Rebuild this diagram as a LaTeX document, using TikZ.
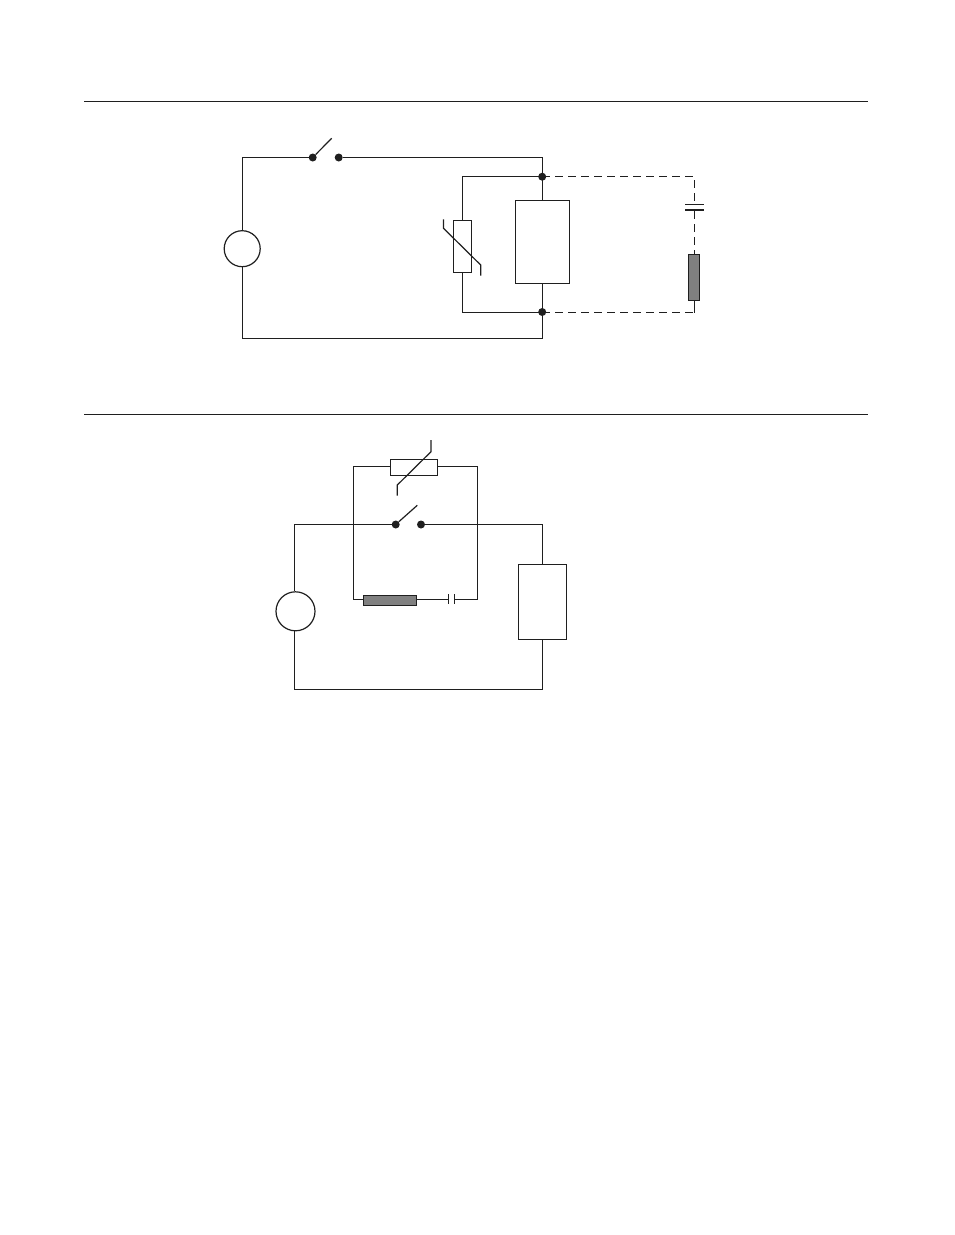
\documentclass[tikz,border=0pt]{standalone}
\definecolor{ink}{gray}{0.12}
\definecolor{plug}{gray}{0.5}
\tikzset{
  wire/.style={draw=ink,line width=1.2pt},
  dot/.style={circle,fill=ink,draw=none,inner sep=0pt,minimum size=8pt},
  source/.style={circle,draw=ink,fill=white,line width=1.2pt,inner sep=0pt},
  box/.style={rectangle,draw=ink,fill=white,line width=1.2pt,inner sep=0pt},
  snub/.style={rectangle,draw=ink,fill=plug,line width=1.2pt,inner sep=0pt},
  plate/.style={rectangle,fill=ink,draw=none,inner sep=0pt},
}
\begin{document}
\begin{tikzpicture}[x=1pt,y=-1pt]
  \useasboundingbox (0,0) rectangle (954,1235);
  % rules
  \coordinate (r1a) at (84,101.5);
  \coordinate (r1b) at (868,101.5);
  \coordinate (r2a) at (84,414.5);
  \coordinate (r2b) at (868,414.5);
  \draw[wire] (r1a) -- (r1b);
  \draw[wire] (r2a) -- (r2b);
  % upper circuit
  \node[dot] (sa) at (312.7,157.5) {};
  \node[dot] (sb) at (338.7,157.5) {};
  \coordinate (st) at (331.7,138.3);
  \coordinate (tr) at (542.5,157.5);
  \coordinate (br) at (542.5,338.5);
  \node[source,minimum size=36pt] (v1) at (242.2,248.7) {};
  \node[dot] (n1) at (542.2,176.7) {};
  \node[dot] (n2) at (542.2,312) {};
  \node[box,line width=1.6pt,minimum width=54pt,minimum height=83pt] (load1) at (542.5,242) {};
  \node[box,minimum width=18pt,minimum height=52pt] (var1) at (462.5,246.5) {};
  \node[snub,minimum width=11pt,minimum height=46pt] (res1) at (694,277.5) {};
  \node[plate,minimum width=19pt,minimum height=1pt] (c1a) at (694.5,204.5) {};
  \node[plate,minimum width=19pt,minimum height=1.7pt] (c1b) at (694.5,210) {};
  \coordinate (k1) at (694.5,176.5);
  \coordinate (k2) at (694.5,312.5);
  \coordinate (u1) at (443.5,219.3);
  \coordinate (u2) at (443.5,228.3);
  \coordinate (u3) at (480.7,265);
  \coordinate (u4) at (480.7,275.7);
  \begin{scope}[wire]
    \draw (v1.north) |- (sa);
    \draw (sa) -- (st);
    \draw (sb) -- (tr) -- (load1.north -| tr);
    \draw (load1.south -| br) -- (br) -| (v1.south);
    \draw (var1.north) |- (k1 -| n1);
    \draw (var1.south) |- (k2 -| n1);
    \draw (u1) -- (u2) -- (u3) -- (u4);
    \draw[dash pattern=on 8pt off 5pt] (k1 -| n1) -- (k1) -- (c1a);
    \draw[dash pattern=on 8pt off 5pt] (c1b) -- (res1.north -| c1b);
    \draw[dash pattern=on 8pt off 5pt] (k2 -| n1) -- (k2);
    \draw (k2) -- (res1.south -| k2);
  \end{scope}
  % lower circuit
  \node[dot] (sc) at (395.7,524.5) {};
  \node[dot] (sd) at (421,524.5) {};
  \coordinate (sv) at (417.3,505.3);
  \coordinate (rt) at (542.5,524.5);
  \coordinate (rb) at (542.5,689.5);
  \coordinate (lx) at (294.5,611);
  \node[source,minimum size=39pt] (v2) at (295.5,611.3) {};
  \node[box,minimum width=48pt,minimum height=75pt] (load2) at (542.5,602) {};
  \node[box,minimum width=47pt,minimum height=16pt] (var2) at (414,467.5) {};
  \node[snub,minimum width=53pt,minimum height=10pt] (res2) at (390,600.5) {};
  \node[plate,minimum width=1pt,minimum height=10.5pt] (c2a) at (448.5,599) {};
  \node[plate,minimum width=1.3pt,minimum height=10.5pt] (c2b) at (454.5,599) {};
  \coordinate (l1) at (353.5,466.5);
  \coordinate (l2) at (353.5,599.5);
  \coordinate (l3) at (477.5,466.5);
  \coordinate (l4) at (477.5,599.5);
  \coordinate (w1) at (431,440);
  \coordinate (w2) at (431,451.7);
  \coordinate (w3) at (397.3,485);
  \coordinate (w4) at (397.3,495.7);
  \begin{scope}[wire]
    \draw (v2.north -| lx) |- (sc);
    \draw (sc) -- (sv);
    \draw (sd) -- (rt) -- (load2.north);
    \draw (load2.south) -- (rb) -| (v2.south -| lx);
    \draw (var2.west |- l1) -- (l1) -- (l2) -- (res2.west |- l2);
    \draw (var2.east |- l3) -- (l3) -- (l4) -- (c2b |- l4);
    \draw (res2.east |- l2) -- (c2a |- l2);
    \draw (w1) -- (w2) -- (w3) -- (w4);
  \end{scope}
\end{tikzpicture}
\end{document}
